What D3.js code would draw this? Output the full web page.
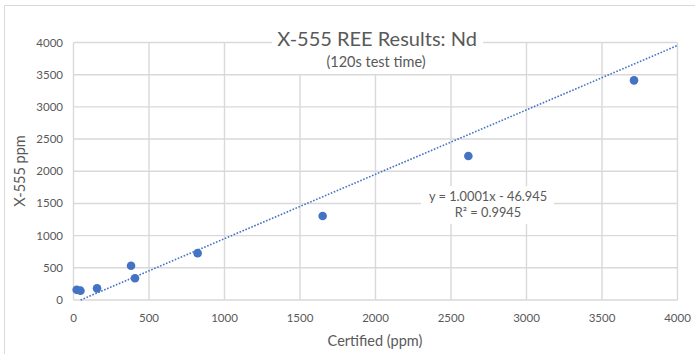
<!DOCTYPE html>
<html><head><meta charset="utf-8">
<script src="https://cdn.jsdelivr.net/npm/d3@7"></script>
<style>body{margin:0;background:#fff;} svg{display:block;font-family:Lato,"Open Sans",sans-serif;}</style>
</head><body>
<svg id="c" width="695" height="354"></svg>
<script>
const certified = [21, 46, 156, 381, 407, 822, 1650, 2615, 3712];
const measured  = [158, 145, 181, 533, 337, 728, 1305, 2236, 3412];
const xTicks = [0, 500, 1000, 1500, 2000, 2500, 3000, 3500, 4000];
const yTicks = [0, 500, 1000, 1500, 2000, 2500, 3000, 3500, 4000];
const slope = 1.0001, intercept = -46.945;
const titleText = "X-555 REE Results: Nd";
const subtitleText = "(120s test time)";
const eqText = "y = 1.0001x - 46.945";
const r2Text = "R² = 0.9945";

const svg = d3.select("#c");
const x = d3.scaleLinear().domain([0, 4000]).range([73.5, 677.5]);
const y = d3.scaleLinear().domain([0, 4000]).range([300, 42.5]);
const grey = "#595959", gridC = "#d9d9d9";

svg.append("rect").attr("x",4.5).attr("y",5.5).attr("width",720).attr("height",400)
  .attr("fill","#fff").attr("stroke","#d9d9d9").attr("stroke-width",1);

const g = svg.append("g");
g.selectAll(".hg").data(yTicks).join("line")
  .attr("x1", x(0)).attr("x2", x(4000)).attr("y1", d=>y(d)).attr("y2", d=>y(d))
  .attr("stroke", gridC).attr("stroke-width",1.4);
g.selectAll(".vg").data(xTicks).join("line")
  .attr("y1", y(0)).attr("y2", y(4000)).attr("x1", d=>x(d)).attr("x2", d=>x(d))
  .attr("stroke", gridC).attr("stroke-width",1.4);

// tick labels
g.selectAll(".yl").data(yTicks).join("text")
  .attr("x", 63).attr("y", d=>y(d)+4).attr("text-anchor","end")
  .attr("font-size",11.5).attr("fill",grey).text(d=>d);
g.selectAll(".xl").data(xTicks).join("text")
  .attr("x", d=>x(d)).attr("y", 322).attr("text-anchor","middle")
  .attr("font-size",11.5).attr("fill",grey).text(d=>d);

// axis titles
svg.append("text").attr("transform","translate(25,171) rotate(-90)")
  .attr("text-anchor","middle").attr("font-size",14.5).attr("fill",grey).text("X-555 ppm");
svg.append("text").attr("x",375).attr("y",346).attr("text-anchor","middle")
  .attr("font-size",14.5).attr("fill",grey).text("Certified (ppm)");

// trendline
const x0 = -intercept/slope;
svg.append("line")
  .attr("x1", x(x0)).attr("y1", y(slope*x0+intercept))
  .attr("x2", x(4000)).attr("y2", y(slope*4000+intercept))
  .attr("stroke","#4472c4").attr("stroke-width",1.6).attr("stroke-dasharray","1.6 1.6");

// points
svg.selectAll(".pt").data(certified.map((c,i)=>[c, measured[i]])).join("circle")
  .attr("cx", d=>x(d[0])).attr("cy", d=>y(d[1])).attr("r",4.3).attr("fill","#4472c4");

// title box
svg.append("rect").attr("x",272).attr("y",28).attr("width",211).attr("height",46).attr("fill","#fff");
svg.append("text").attr("x",377).attr("y",46).attr("text-anchor","middle")
  .attr("font-size",20).attr("fill",grey).text(titleText);
svg.append("text").attr("x",376).attr("y",67).attr("text-anchor","middle")
  .attr("font-size",14.5).attr("fill",grey).text(subtitleText);

// equation box
svg.append("rect").attr("x",421).attr("y",186).attr("width",133).attr("height",38).attr("fill","#fff");
svg.append("text").attr("x",488).attr("y",201).attr("text-anchor","middle")
  .attr("font-size",12.8).attr("fill",grey).text(eqText);
svg.append("text").attr("x",488).attr("y",217).attr("text-anchor","middle")
  .attr("font-size",12.8).attr("fill",grey).text(r2Text);
</script>
</body></html>
